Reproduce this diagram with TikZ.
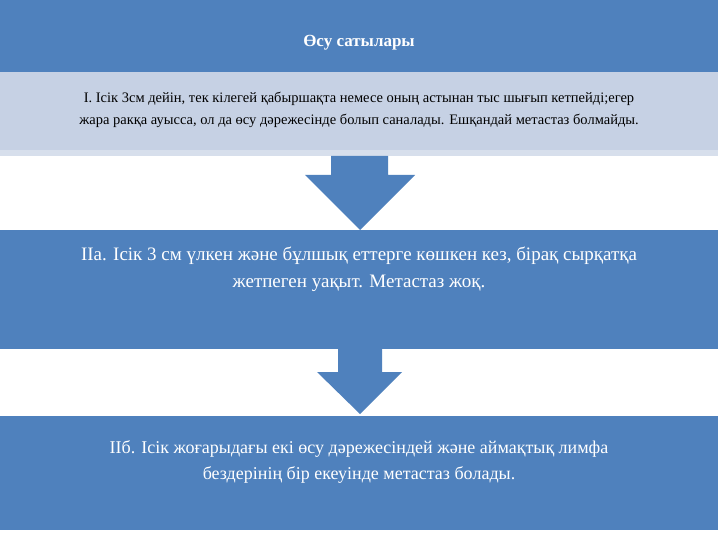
\documentclass[tikz,border=0pt]{standalone}
\usepackage{fontspec}
\setmainfont{Liberation Serif}
\definecolor{blu}{HTML}{4F81BD}
\definecolor{lbl}{HTML}{C6D1E4}
\newcommand{\fsA}{\fontsize{14.5}{22}\selectfont}
\newcommand{\fsB}{\fontsize{19}{27}\selectfont}
\newcommand{\fsC}{\fontsize{18}{26}\selectfont}
\begin{document}
\begin{tikzpicture}[x=1pt,y=-1pt,
  band/.style={fill=blu,draw=none},
  txt/.style={align=center,inner sep=0pt},
  arr/.style={fill=blu,draw=none}]
\useasboundingbox (0,0) rectangle (720,540);
\fill[white] (0,0) rectangle (720,540);
\fill[band] (0,0) rectangle (718,72);
\node[txt,text=white] (title) at (359,43) {\fontsize{17}{20}\selectfont\bfseries Өсу сатылары};
\fill[lbl] (0,72) rectangle (718,150);
\fill[lbl!70!white] (0,150) rectangle (718,156);
\node[txt,font=\fsA] (s1) at (359,110) {\fsA І. Ісік 3см дейін, тек кілегей қабыршақта немесе оның астынан тыс шығып кетпейді;егер\\ \fsA жара ракқа ауысса, ол да өсу дәрежесінде болып саналады. Ешқандай метастаз болмайды.};
\fill[arr] (331,156) -- (388,156) -- (388,175) -- (415,175) -- (360,230) -- (305,175) -- (331,175) -- cycle;
\fill[band] (0,230) rectangle (718,349);
\node[txt,text=white,font=\fsB] (s2) at (359,269) {\fsB ІІа. Ісік 3 см үлкен және бұлшық еттерге көшкен кез, бірақ сырқатқа\\ \fsB жетпеген уақыт. Метастаз жоқ.};
\fill[arr] (338,349) -- (382,349) -- (382,372) -- (402,372) -- (360,414) -- (317,372) -- (338,372) -- cycle;
\fill[band] (0,416) rectangle (718,530);
\node[txt,text=white,font=\fsC] (s3) at (359,462) {\fsC ІІб. Ісік жоғарыдағы екі өсу дәрежесіндей және аймақтық лимфа\\ \fsC бездерінің бір екеуінде метастаз болады.};
\end{tikzpicture}
\end{document}
